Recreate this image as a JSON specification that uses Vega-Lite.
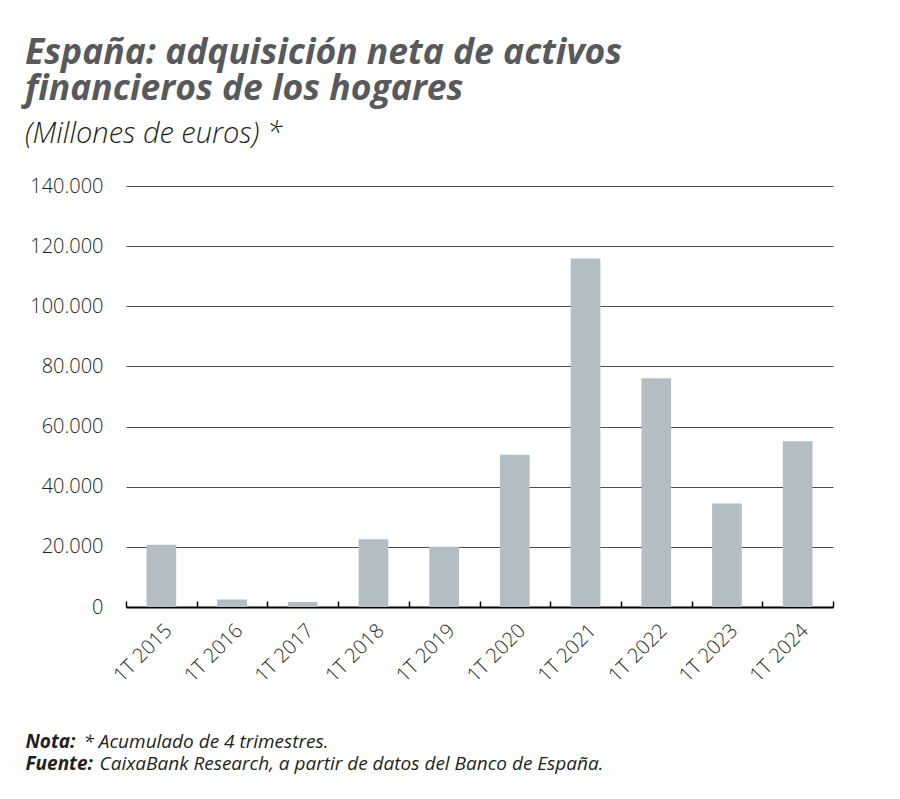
{
  "$schema": "https://vega.github.io/schema/vega-lite/v6.json",
  "width": 707,
  "height": 421,
  "autosize": {"type": "none"},
  "padding": {"left": 126, "top": 186, "right": 67, "bottom": 192},
  "background": "white",
  "title": {
    "text": ["España: adquisición neta de activos", "financieros de los hogares"],
    "subtitle": "(Millones de euros) *",
    "anchor": "start",
    "frame": "group",
    "dx": -101,
    "font": "Open Sans",
    "fontSize": 35.5,
    "fontWeight": "bold",
    "fontStyle": "italic",
    "color": "#58595b",
    "lineHeight": 36,
    "subtitleFont": "Open Sans",
    "subtitleFontSize": 29,
    "subtitleFontStyle": "italic",
    "subtitleFontWeight": 300,
    "subtitleColor": "#231f20",
    "subtitlePadding": 13,
    "offset": 27
  },
  "data": {
    "values": [
      {"periodo": "1T 2015", "valor": 20700},
      {"periodo": "1T 2016", "valor": 2500},
      {"periodo": "1T 2017", "valor": 1700},
      {"periodo": "1T 2018", "valor": 22500},
      {"periodo": "1T 2019", "valor": 20000},
      {"periodo": "1T 2020", "valor": 50600},
      {"periodo": "1T 2021", "valor": 115900},
      {"periodo": "1T 2022", "valor": 76100},
      {"periodo": "1T 2023", "valor": 34400},
      {"periodo": "1T 2024", "valor": 55100}
    ]
  },
  "config": {
    "view": {"stroke": null},
    "axis": {"labelFont": "Open Sans", "titleFont": "Open Sans"}
  },
  "resolve": {"axis": {"x": "independent", "y": "independent"}},
  "layer": [
    {
      "mark": {"type": "bar", "color": "#b2bec3", "width": {"band": 0.42}},
      "encoding": {
        "x": {
          "field": "periodo",
          "type": "nominal",
          "sort": null,
          "scale": {"paddingInner": 0, "paddingOuter": 0},
          "axis": {
            "title": ["Nota:", "Fuente:"],
            "titleFontSize": 19,
            "titleFontWeight": "bold",
            "titleFontStyle": "italic",
            "titleColor": "#231f20",
            "titleAlign": "left",
            "titleAnchor": null,
            "titleBaseline": "alphabetic",
            "titleX": -101,
            "titleY": 140,
            "titleLineHeight": 22,
            "labelAngle": -45,
            "labelFontSize": 20,
            "labelFontWeight": 300,
            "labelColor": "#231f20",
            "labelPadding": 19,
            "domainColor": "#000000",
            "domainWidth": 2,
            "tickBand": "extent",
            "tickSize": -6,
            "tickColor": "#000000",
            "tickWidth": 1.5,
            "grid": false
          }
        },
        "y": {
          "field": "valor",
          "type": "quantitative",
          "scale": {"domain": [0, 140000]},
          "axis": {
            "values": [0, 20000, 40000, 60000, 80000, 100000, 120000, 140000],
            "format": ",.0f",
            "labelExpr": "replace(datum.label, /,/g, '.')",
            "labelFontSize": 20,
            "labelFontWeight": 300,
            "labelColor": "#231f20",
            "labelPadding": 23,
            "ticks": false,
            "domain": false,
            "grid": true,
            "gridColor": "#4d4d4d",
            "gridWidth": 1.2,
            "title": "* Acumulado de 4 trimestres.",
            "titleAngle": 0,
            "titleFontSize": 19,
            "titleFontWeight": "normal",
            "titleFontStyle": "italic",
            "titleColor": "#231f20",
            "titleAlign": "left",
            "titleAnchor": null,
            "titleBaseline": "alphabetic",
            "titleX": -43,
            "titleY": 561
          }
        }
      }
    },
    {
      "mark": {"type": "bar", "opacity": 0},
      "encoding": {
        "x": {
          "field": "periodo",
          "type": "nominal",
          "sort": null,
          "axis": {
            "orient": "top",
            "labels": false,
            "ticks": false,
            "domain": false,
            "grid": false,
            "title": "CaixaBank Research, a partir de datos del Banco de España.",
            "titleFontSize": 19,
            "titleFontWeight": "normal",
            "titleFontStyle": "italic",
            "titleColor": "#231f20",
            "titleAlign": "left",
            "titleAnchor": null,
            "titleBaseline": "alphabetic",
            "titleX": -27,
            "titleY": 583
          }
        },
        "y": {
          "field": "valor",
          "type": "quantitative",
          "axis": {
            "orient": "right",
            "labels": false,
            "ticks": false,
            "domain": false,
            "grid": false,
            "title": null
          }
        }
      }
    }
  ]
}
